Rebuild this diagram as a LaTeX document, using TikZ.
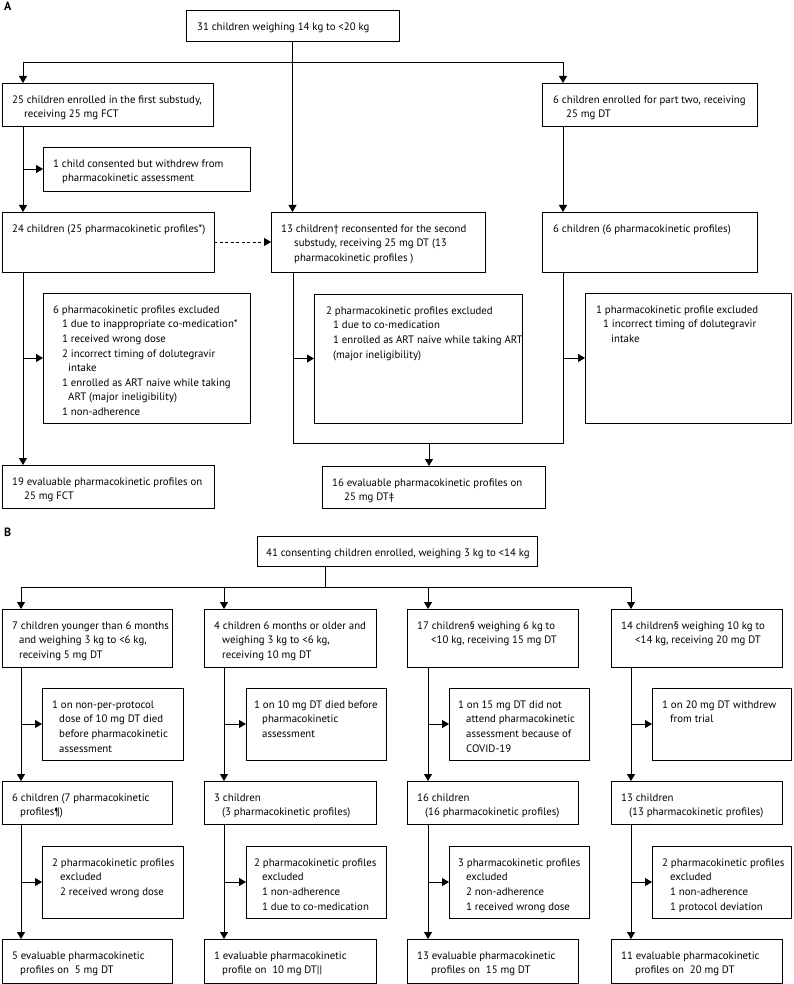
\documentclass[tikz,border=0pt]{standalone}
\usepackage{fontspec}
\setmainfont{PT Sans}
\usetikzlibrary{arrows.meta}
\tikzset{
  box/.style={draw, line width=0.8pt, inner sep=0pt, outer sep=0pt, anchor=north west},
  txt/.style={inner sep=0pt, align=left, anchor=north west, font=\fontsize{10.8}{14.6}\selectfont},
  arr/.style={line width=0.8pt, -{Triangle[length=7pt,width=8pt]}},
  ln/.style={line width=0.8pt},
  lbl/.style={inner sep=0pt, anchor=base west, font=\bfseries\fontsize{12}{12}\selectfont},
}
\newcommand{\ii}[1]{\hspace*{#1pt}}
\newcommand{\bx}[7]{%
  \node[box, minimum width={(#4)-(#2)}, minimum height={(#5)-(#3)}] (#1) at (#2,#3) {};
  \node[txt] (#1-t) at ([xshift=#6pt, yshift=-11pt]#1.north west) {\rule{0pt}{9pt}#7};
}
\begin{document}
\begin{tikzpicture}[x=1pt,y=-1pt]
\useasboundingbox (0,0) rectangle (793,984);
% ---------------- Part A
\node[lbl] (labA) at (4,11) {A};
\bx{top}{186}{10}{399}{41}{11}{31 children weighing 14 kg to <20 kg}
\bx{b25}{2}{83}{213}{126}{10}{25 children enrolled in the first substudy,\\\ii{12}receiving 25 mg FCT}
\bx{b6p2}{542}{83}{757}{126}{11}{6 children enrolled for part two, receiving\\\ii{13}25 mg DT}
\bx{wd1}{43}{147}{250}{191}{10}{1 child consented but withdrew from\\\ii{9}pharmacokinetic assessment}
\bx{b24}{2}{212}{214}{272}{10}{24 children (25 pharmacokinetic profiles*)}
\bx{b13}{271}{212}{485}{272}{10}{13 children† reconsented for the second\\\ii{13}substudy, receiving 25 mg DT (13\\\ii{13}pharmacokinetic profiles )}
\bx{b6}{542}{212}{757}{272}{11}{6 children (6 pharmacokinetic profiles)}
\bx{ex6}{43}{293}{250}{423}{10}{6 pharmacokinetic profiles excluded\\\ii{9}1 due to inappropriate co-medication*\\\ii{9}1 received wrong dose\\\ii{9}2 incorrect timing of dolutegravir\\\ii{15}intake\\\ii{9}1 enrolled as ART naive while taking\\\ii{15}ART (major ineligibility)\\\ii{9}1 non-adherence}
\bx{ex2}{314}{294}{522}{423}{12}{2 pharmacokinetic profiles excluded\\\ii{7}1 due to co-medication\\\ii{7}1 enrolled as ART naive while taking ART\\\ii{7}(major ineligibility)}
\bx{ex1}{585}{293}{791.5}{423}{11}{1 pharmacokinetic profile excluded\\\ii{7}1 incorrect timing of dolutegravir\\\ii{15}intake}
\bx{ev19}{2}{465}{214}{508}{10}{19 evaluable pharmacokinetic profiles on\\\ii{12}25 mg FCT}
\bx{ev16}{322}{466}{545}{508}{10}{16 evaluable pharmacokinetic profiles on\\\ii{12}25 mg DT‡}
\coordinate (hL) at (23,62);
\coordinate (hR) at (563,62);
\coordinate (m13) at (293,443);
\coordinate (m6) at (563,443);
\coordinate (m16) at (429,443);
\draw[ln] (hL) -- (hR);
\draw[arr] (hL) -- (hL |- b25.north);
\draw[arr] (hR) -- (hR |- b6p2.north);
\draw[arr] (top.south) -- (top.south |- b13.north);
\draw[arr] (hL |- b25.south) -- (hL |- b24.north);
\draw[arr] (hL |- wd1.west) -- (wd1.west);
\draw[arr, dash pattern=on 3pt off 2.5pt] (b24.east) -- (b13.west);
\draw[arr] (hL |- b24.south) -- (hL |- ev19.north);
\draw[arr] (hL |- ex6.west) -- (ex6.west);
\draw[arr] (hR |- b6p2.south) -- (hR |- b6.north);
\draw[ln] (m13 |- b13.south) -- (m13) -- (m6) -- (m6 |- b6.south);
\draw[arr] (m13 |- ex2.west) -- (ex2.west);
\draw[arr] (m6 |- ex1.west) -- (ex1.west);
\draw[arr] (m16) -- (m16 |- ev16.north);
% ---------------- Part B
\node[lbl] (labB) at (4,536) {B};
\bx{topB}{257}{536}{537}{566}{9}{41 consenting children enrolled, weighing 3 kg to <14 kg}
\bx{c1}{2}{609}{172}{667}{10}{7 children younger than 6 months\\\ii{7}and weighing 3 kg to <6 kg,\\\ii{7}receiving 5 mg DT}
\bx{c2}{204}{609}{376}{667}{10}{4 children 6 months or older and\\\ii{8}weighing 3 kg to <6 kg,\\\ii{8}receiving 10 mg DT}
\bx{c3}{407}{609}{578}{667}{10}{17 children§ weighing 6 kg to\\\ii{14}<10 kg, receiving 15 mg DT}
\bx{c4}{611}{609}{782}{667}{10}{14 children§ weighing 10 kg to\\\ii{14}<14 kg, receiving 20 mg DT}
\bx{w1}{42}{688}{183}{760}{10}{1 on non-per-protocol\\\ii{7}dose of 10 mg DT died\\\ii{7}before pharmacokinetic\\\ii{7}assessment}
\bx{w2}{246}{688}{386}{760}{8}{1 on 10 mg DT died before\\\ii{8}pharmacokinetic\\\ii{8}assessment}
\bx{w3}{449}{688}{589}{760}{9}{1 on 15 mg DT did not\\\ii{8}attend pharmacokinetic\\\ii{8}assessment because of\\\ii{8}COVID-19}
\bx{w4}{652}{688}{791.5}{760}{10}{1 on 20 mg DT withdrew\\\ii{8}from trial}
\bx{m1}{2}{781}{172}{824}{10}{6 children (7 pharmacokinetic\\\ii{8}profiles¶)}
\bx{m2}{204}{781}{376}{824}{10}{3 children\\\ii{8}(3 pharmacokinetic profiles)}
\bx{m3}{407}{781}{578}{824}{10}{16 children\\\ii{8}(16 pharmacokinetic profiles)}
\bx{m4}{611}{781}{782}{824}{10}{13 children\\\ii{8}(13 pharmacokinetic profiles)}
\bx{e1}{42}{846}{183}{918}{10}{2 pharmacokinetic profiles\\\ii{8}excluded\\\ii{8}2 received wrong dose}
\bx{e2}{246}{846}{386}{918}{8}{2 pharmacokinetic profiles\\\ii{8}excluded\\\ii{8}1 non-adherence\\\ii{8}1 due to co-medication}
\bx{e3}{449}{846}{589}{918}{9}{3 pharmacokinetic profiles\\\ii{8}excluded\\\ii{8}2 non-adherence\\\ii{8}1 received wrong dose}
\bx{e4}{652}{846}{791.5}{918}{10}{2 pharmacokinetic profiles\\\ii{8}excluded\\\ii{8}1 non-adherence\\\ii{8}1 protocol deviation}
\bx{f1}{2}{939}{172}{983}{10}{5 evaluable pharmacokinetic\\\ii{8}profiles on \ 5 mg DT}
\bx{f2}{204}{939}{376}{983}{10}{1 evaluable pharmacokinetic\\\ii{8}profile on \ 10 mg DT||}
\bx{f3}{407}{939}{578}{983}{10}{13 evaluable pharmacokinetic\\\ii{14}profiles on \ 15 mg DT}
\bx{f4}{611}{939}{782}{983}{10}{11 evaluable pharmacokinetic\\\ii{14}profiles on \ 20 mg DT}
\coordinate (hB) at (325,587);
\coordinate (k1) at (21,587);
\coordinate (k2) at (224,587);
\coordinate (k3) at (428,587);
\coordinate (k4) at (631,587);
\draw[ln] (hB |- topB.south) -- (hB);
\draw[ln] (k1) -- (k4);
\foreach \k/\c/\w/\m/\e/\f in {k1/c1/w1/m1/e1/f1, k2/c2/w2/m2/e2/f2, k3/c3/w3/m3/e3/f3, k4/c4/w4/m4/e4/f4}{
  \draw[arr] (\k) -- (\k |- \c.north);
  \draw[arr] (\k |- \c.south) -- (\k |- \m.north);
  \draw[arr] (\k |- \w.west) -- (\w.west);
  \draw[arr] (\k |- \m.south) -- (\k |- \f.north);
  \draw[arr] (\k |- \e.west) -- (\e.west);
}
\end{tikzpicture}
\end{document}
